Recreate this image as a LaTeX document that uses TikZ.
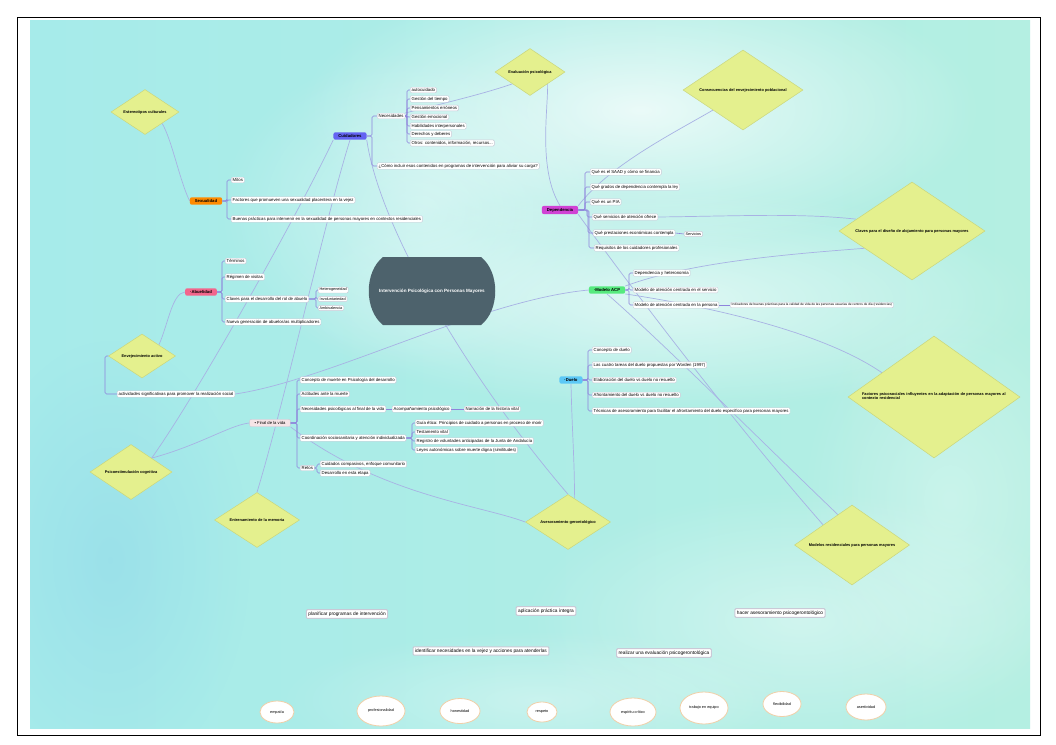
\documentclass[tikz,border=0pt]{standalone}
\usepackage{fontspec}
\setmainfont{Liberation Sans}
\usetikzlibrary{shapes.geometric,fadings}

\definecolor{bgl}{HTML}{A6EBEA}
\definecolor{bgr}{HTML}{B4EFE2}
\definecolor{diaf}{HTML}{E4F08E}
\definecolor{diab}{HTML}{CAD67C}
\definecolor{relc}{HTML}{A8B2E4}
\definecolor{brc}{HTML}{8E84DC}
\definecolor{subd}{HTML}{C9C9D6}
\definecolor{cuidc}{HTML}{6464F2}
\definecolor{sexc}{HTML}{FF8A00}
\definecolor{depc}{HTML}{D042D4}
\definecolor{abuc}{HTML}{F2668C}
\definecolor{acpc}{HTML}{56EA7E}
\definecolor{duec}{HTML}{5CC8F6}
\definecolor{finc}{HTML}{F6E4E6}
\definecolor{cenc}{HTML}{4D626C}
\definecolor{ellb}{HTML}{F0CFA8}

\pgfdeclarelayer{bg}
\pgfdeclarelayer{lines}
\pgfsetlayers{bg,lines,main}

\tikzfading[name=soft, inner color=transparent!0, outer color=transparent!100]

\tikzset{
    sub/.style={draw=subd, fill=white, rounded corners=1.2pt, inner xsep=1.5pt,
        inner ysep=1.2pt, line width=0.4pt, font=\fontsize{4.3}{5}\selectfont, anchor=west},
    topic/.style={rounded corners=2pt, inner xsep=5pt, inner ysep=2.2pt,
        font=\fontsize{4.2}{5}\selectfont\bfseries},
    dia/.style={diamond, draw=diab, fill=diaf, inner sep=0pt, line width=0.5pt},
    diatext/.style={font=\fontsize{3.9}{4.6}\selectfont\bfseries, align=center},
    rel/.style={draw=relc, line width=0.7pt},
    br/.style={draw=brc, line width=0.6pt, rounded corners=1.5pt},
    aim/.style={draw=subd, fill=white, rounded corners=1pt, inner sep=2pt,
        line width=1pt, font=\fontsize{4.8}{5.6}\selectfont},
    quality/.style={ellipse, draw=ellb, fill=white, line width=0.8pt,
        inner sep=0pt, font=\fontsize{3.8}{4.5}\selectfont},
    cloud/.style={fill=white, path fading=soft},
}

\begin{document}
\begin{tikzpicture}[x=1pt,y=-1pt]
\useasboundingbox (0,0) rectangle (1056,744);

% fondo de acuarela
\begin{pgfonlayer}{bg}
\fill[white] (0,0) rectangle (1056,744);
\begin{scope}
    \clip (30,20) rectangle (1030,728);
    \shade[left color=bgl, right color=bgr] (30,20) rectangle (1030,728);
    \fill[cloud, opacity=0.75] (640,110) ellipse (340 and 140);
    \fill[cloud, opacity=0.6] (660,300) ellipse (380 and 110);
    \fill[cloud, opacity=0.45] (420,210) ellipse (200 and 160);
    \fill[cloud, opacity=0.4] (800,620) ellipse (280 and 130);
    \fill[cloud, opacity=0.35] (540,700) ellipse (260 and 70);
    \fill[cloud, opacity=0.3] (950,500) ellipse (150 and 200);
    \fill[cyan!25!bgl, opacity=0.35, path fading=soft] (110,560) ellipse (140 and 220);
\end{scope}
\draw[black, line width=0.8pt] (17,17) rectangle (1040,735);
\end{pgfonlayer}

% nodo central
\fill[cenc] (383,257) -- (481,257) .. controls (500,272) and (500,310) .. (481,325)
    -- (383,325) .. controls (364,310) and (364,272) .. (383,257);
\node[font=\fontsize{4.6}{5.4}\selectfont\bfseries, text=white] (centro) at (432,291)
    {Intervención Psicológica con Personas Mayores};

% rombos
\node[dia, minimum width=68pt, minimum height=45pt] (estereo) at (145,112) {};
\node[diatext] at (estereo) {Estereotipos culturales};
\node[dia, minimum width=70pt, minimum height=47pt] (evalua) at (530,72) {};
\node[diatext] at (evalua) {Evaluación psicológica};
\node[dia, minimum width=120pt, minimum height=80pt] (conse) at (743,90) {};
\node[diatext] at (conse) {Consecuencias del envejecimiento poblacional};
\node[dia, minimum width=146pt, minimum height=98pt] (claves) at (912,231) {};
\node[diatext] at (claves) {Claves para el diseño de alojamiento para personas mayores};
\node[dia, minimum width=67pt, minimum height=44pt] (envej) at (142,356) {};
\node[diatext] at (envej) {Envejecimiento activo};
\node[dia, minimum width=172pt, minimum height=122pt] (factor) at (934,397) {};
\node[diatext, align=left, text width=148pt] at ([xshift=2pt,yshift=1pt]factor)
    {Factores psicosociales influyentes en la adaptación de personas mayores al contexto residencial};
\node[dia, minimum width=82pt, minimum height=55pt] (psico) at (131,472) {};
\node[diatext] at (psico) {Psicoestimulación cognitiva};
\node[dia, minimum width=85pt, minimum height=55pt] (entren) at (257,520) {};
\node[diatext] at (entren) {Entrenamiento de la memoria};
\node[dia, minimum width=85pt, minimum height=55pt] (asesor) at (568,522) {};
\node[diatext] at (asesor) {Asesoramiento gerontológico};
\node[dia, minimum width=115pt, minimum height=80pt] (modres) at (852,545) {};
\node[diatext] at (modres) {Modelos residenciales para personas mayores};

% Cuidadores
\node[topic, fill=cuidc] (cuid) at (350,136) {Cuidadores};
\node[sub] (nec) at (377,116) {Necesidades};
\node[sub] (cinc) at (377,166) {¿Cómo incluir esos contenidos en programas de intervención para aliviar su carga?};
\node[sub] (ne1) at (410,90) {autocuidado};
\node[sub] (ne2) at (410,99) {Gestión del tiempo};
\node[sub] (ne3) at (410,108) {Pensamientos erróneos};
\node[sub] (ne4) at (410,117) {Gestión emocional};
\node[sub] (ne5) at (410,126) {Habilidades interpersonales};
\node[sub] (ne6) at (410,134) {Derechos y deberes};
\node[sub] (ne7) at (410,143) {Otros: contenidos, información, recursos...};
\foreach \c in {nec,cinc}
    \draw[br] (cuid.east) -| ([xshift=-5pt]\c.west) -- (\c.west);
\foreach \c in {ne1,ne2,ne3,ne4,ne5,ne6,ne7}
    \draw[br] (nec.east) -| ([xshift=-3pt]\c.west) -- (\c.west);

% Sexualidad
\node[topic, fill=sexc] (sexu) at (206,201) {Sexualidad};
\node[sub] (sx1) at (231,180) {Mitos};
\node[sub] (sx2) at (231,200) {Factores que promueven una sexualidad placentera en la vejez};
\node[sub] (sx3) at (231,219) {Buenas prácticas para intervenir en la sexualidad de personas mayores en contextos residenciales};
\foreach \c in {sx1,sx2,sx3}
    \draw[br] (sexu.east) -| ([xshift=-4pt]\c.west) -- (\c.west);

% Dependencia
\node[topic, fill=depc] (dep) at (560,210) {Dependencia};
\node[sub] (dp1) at (590,172) {Qué es el SAAD y cómo se financia};
\node[sub] (dp2) at (590,187) {Qué grados de dependencia contempla la ley};
\node[sub] (dp3) at (590,202) {Qué es un PIA};
\node[sub] (qserv) at (592,217) {Qué servicios de atención ofrece};
\node[sub] (dp5) at (593,233) {Qué prestaciones económicas contempla};
\node[sub] (dp6) at (594,248) {Requisitos de los cuidadores profesionales};
\node[sub, font=\fontsize{3.8}{4.4}\selectfont] (dp7) at (684,234) {Servicios};
\foreach \c in {dp1,dp2,dp3,qserv,dp5,dp6}
    \draw[br] (dep.east) -| ([xshift=-5pt]\c.west) -- (\c.west);
\draw[br] (dp5.east) -- (dp7.west);

% Abuelidad
\node[topic, fill=abuc] (abuel) at (201,292) {·Abuelidad};
\node[sub] (ab1) at (225,261) {Términos};
\node[sub] (ab2) at (225,277) {Régimen de visitas};
\node[sub] (ab3) at (225,299) {Claves para el desarrollo del rol de abuelo};
\node[sub] (ab4) at (225,322) {Nueva generación de abuelos/as multiplicadores};
\node[sub, font=\fontsize{3.8}{4.4}\selectfont] (ab5) at (318,290) {Heterogeneidad};
\node[sub, font=\fontsize{3.8}{4.4}\selectfont] (ab6) at (318,299) {Involuntariedad};
\node[sub, font=\fontsize{3.8}{4.4}\selectfont] (ab7) at (318,308) {Ambivalencia};
\foreach \c in {ab1,ab2,ab3,ab4}
    \draw[br] (abuel.east) -| ([xshift=-3pt]\c.west) -- (\c.west);
\foreach \c in {ab5,ab6,ab7}
    \draw[br] (ab3.east) -| ([xshift=-2pt]\c.west) -- (\c.west);

% Envejecimiento activo
\node[sub] (activ) at (117,394) {actividades significativas para promover la realización social};
\draw[br] (envej.west) -| ([xshift=-12pt]activ.west) -- (activ.west);

% Modelo ACP
\node[topic, fill=acpc] (acp) at (607,290) {·Modelo ACP};
\node[sub] (ac1) at (633,273) {Dependencia y heteronomía};
\node[sub] (ac2) at (633,290) {Modelo de atención centrada en el servicio};
\node[sub] (ac3) at (633,305) {Modelo de atención centrada en la persona};
\node[sub, font=\fontsize{3.2}{3.8}\selectfont] (ac4) at (730,305)
    {Indicadores de buenas prácticas para la calidad de vida de las personas usuarias de centros de día (residencias)};
\foreach \c in {ac1,ac2,ac3}
    \draw[br] (acp.east) -| ([xshift=-4pt]\c.west) -- (\c.west);
\draw[br] (ac3.east) -- (ac4.west);

% Final de la vida
\node[topic, fill=finc, draw=subd, font=\fontsize{4.2}{5}\selectfont] (final) at (270,423) {• Final de la vida};
\node[sub] (fv1) at (300,380) {Concepto de muerte en Psicología del desarrollo};
\node[sub] (fv2) at (300,394) {Actitudes ante la muerte};
\node[sub] (fv3) at (300,409) {Necesidades psicológicas al final de la vida};
\node[sub] (fv4) at (300,438) {Coordinación sociosanitaria y atención individualizada};
\node[sub] (fv5) at (300,468) {Retos};
\node[sub] (fv6) at (392,409) {Acompañamiento psicológico};
\node[sub] (fv7) at (464,409) {Narración de la historia vital};
\node[sub] (fv8) at (415,423) {Guía ética: Principios de cuidado a personas en proceso de morir};
\node[sub] (fv9) at (415,432) {Testamento vital};
\node[sub] (fv10) at (415,441) {Registro de voluntades anticipadas de la Junta de Andalucía};
\node[sub] (fv11) at (415,450) {Leyes autonómicas sobre muerte digna (similitudes)};
\node[sub] (fv12) at (320,464) {Cuidados compasivos, enfoque comunitario};
\node[sub] (fv13) at (320,473) {Desarrollo en esta etapa};
\foreach \c in {fv1,fv2,fv3,fv4,fv5}
    \draw[br] (final.east) -| ([xshift=-3pt]\c.west) -- (\c.west);
\draw[br] (fv3.east) -- (fv6.west);
\draw[br] (fv6.east) -- (fv7.west);
\foreach \c in {fv8,fv9,fv10,fv11}
    \draw[br] (fv4.east) -| ([xshift=-3pt]\c.west) -- (\c.west);
\foreach \c in {fv12,fv13}
    \draw[br] (fv5.east) -| ([xshift=-3pt]\c.west) -- (\c.west);

% Duelo
\node[topic, fill=duec] (duelo) at (571,380) {·Duelo};
\node[sub] (du1) at (592,350) {Concepto de duelo};
\node[sub] (du2) at (592,365) {Las cuatro tareas del duelo propuestas por Worden (1997)};
\node[sub] (du3) at (592,380) {Elaboración del duelo vs duelo no resuelto};
\node[sub] (du4) at (592,395) {Afrontamiento del duelo vs duelo no resuelto};
\node[sub] (du5) at (592,411) {Técnicas de asesoramiento para facilitar el afrontamiento del duelo específico para personas mayores};
\foreach \c in {du1,du2,du3,du4,du5}
    \draw[br] (duelo.east) -| ([xshift=-4pt]\c.west) -- (\c.west);

% objetivos
\node[aim] (ob1) at (347,614) {planificar programas de intervención};
\node[aim] (ob2) at (546,611) {aplicación práctica íntegra};
\node[aim] (ob3) at (780,613) {hacer asesoramiento psicogerontológico};
\node[aim] (ob4) at (481,651) {identificar necesidades en la vejez y acciones para atenderlas};
\node[aim] (ob5) at (664,653) {realizar una evaluación psicogerontológica};

% competencias
\node[quality, minimum width=34pt, minimum height=22pt] (cp1) at (277,712) {empatía};
\node[quality, minimum width=48pt, minimum height=30pt] (cp2) at (381,711) {profesionalidad};
\node[quality, minimum width=40pt, minimum height=25pt] (cp3) at (460,711) {honestidad};
\node[quality, minimum width=30pt, minimum height=20pt] (cp4) at (542,712) {respeto};
\node[quality, minimum width=46pt, minimum height=28pt] (cp5) at (633,712) {espíritu crítico};
\node[quality, minimum width=48pt, minimum height=32pt] (cp6) at (704,708) {trabajo en equipo};
\node[quality, minimum width=38pt, minimum height=25pt] (cp7) at (782,704) {flexibilidad};
\node[quality, minimum width=40pt, minimum height=26pt] (cp8) at (866,707) {asertividad};

% relaciones
\begin{pgfonlayer}{lines}
\draw[rel] (estereo.south east) .. controls (172,140) and (180,182) .. (sexu.west);
\draw[rel] (evalua.south west) .. controls (480,95) and (440,104) .. (nec.north east);
\draw[rel] (evalua.south east) .. controls (548,110) and (538,170) .. (dep.north);
\draw[rel] (conse.south west) .. controls (670,135) and (610,165) .. (dep.north east);
\draw[rel] (qserv.east) .. controls (740,216) and (800,213) .. (claves.168);
\draw[rel] (acp.north east) .. controls (690,262) and (790,254) .. (claves.200);
\draw[rel] (acp.south east) .. controls (700,305) and (820,330) .. (factor.155);
\draw[rel] (dep.south east) .. controls (640,300) and (740,430) .. (modres.north west);
\draw[rel] (acp.south) .. controls (660,340) and (760,440) .. (modres.115);
\draw[rel] (activ.east) .. controls (330,380) and (480,300) .. (acp.west);
\draw[rel] (envej.north east) .. controls (168,325) and (172,293) .. (abuel.west);
\draw[rel] (psico.north east) .. controls (200,445) and (230,425) .. (final.west);
\draw[rel] (cuid.south west) .. controls (300,210) and (200,390) .. (psico.north east);
\draw[rel] (cuid.south) .. controls (325,220) and (285,400) .. (entren.north);
\draw[rel] (cuid.south east) .. controls (380,230) and (470,380) .. (asesor.north);
\draw[rel] (final.south east) .. controls (380,495) and (480,505) .. (asesor.west);
\draw[rel] (duelo.south) .. controls (572,430) and (575,470) .. (asesor.75);
\end{pgfonlayer}
\end{tikzpicture}
\end{document}
